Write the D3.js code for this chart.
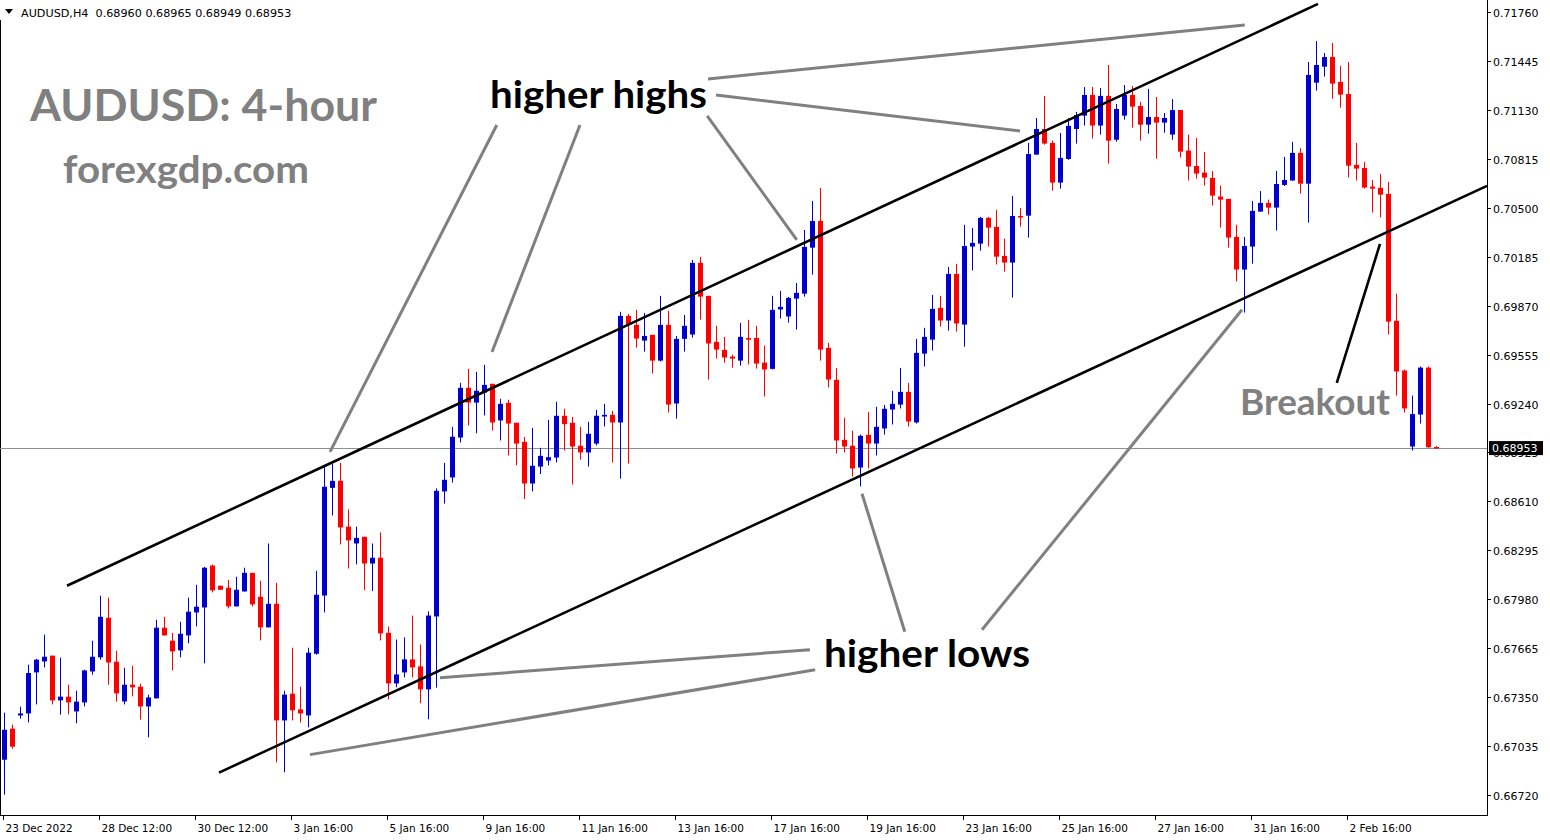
<!DOCTYPE html>
<html><head><meta charset="utf-8">
<script src="https://cdn.jsdelivr.net/npm/d3@7"></script>
<style>html,body{margin:0;padding:0;background:#fff;overflow:hidden}svg{display:block}</style>
</head><body>
<svg id="c" width="1550" height="840"></svg>
<script>
// ---- data (4H candles, index 0..179) ----
const opens = [0.66947,0.67147,0.67232,0.67245,0.67509,0.67580,0.67617,0.67329,0.67353,0.67258,
0.67316,0.67515,0.67606,0.67861,0.67578,0.67322,0.67430,0.67417,0.67290,0.67342,
0.67797,0.67713,0.67651,0.67747,0.67895,0.67927,0.68197,0.68067,0.68054,0.67934,
0.68030,0.68150,0.67996,0.67799,0.67951,0.67200,0.67372,0.67271,0.67232,0.67629,
0.68004,0.68697,0.68742,0.68447,0.68339,0.68382,0.68210,0.68247,0.67764,0.67438,
0.67509,0.67593,0.67548,0.67400,0.67869,0.68674,0.68764,0.69021,0.69341,0.69246,
0.69310,0.69367,0.69131,0.69244,0.69116,0.68993,0.68725,0.68834,0.68873,0.68892,
0.69161,0.69116,0.68968,0.68925,0.68982,0.69156,0.69167,0.69118,0.69804,0.69746,
0.69645,0.69682,0.69516,0.69746,0.69240,0.69656,0.69684,0.70145,0.69933,0.69637,
0.69585,0.69542,0.69516,0.69662,0.69662,0.69503,0.69463,0.69845,0.69800,0.69915,
0.69947,0.70243,0.70415,0.69598,0.69392,0.69006,0.68968,0.68828,0.69038,0.68982,
0.69079,0.69201,0.69233,0.69315,0.69118,0.69561,0.69651,0.69856,0.69774,0.70074,
0.69748,0.70250,0.70269,0.70435,0.70377,0.70190,0.70147,0.70447,0.70449,0.70842,
0.71007,0.70917,0.70662,0.70814,0.71007,0.71093,0.71226,0.71029,0.71220,0.70938,
0.71093,0.71226,0.71155,0.71035,0.71084,0.71048,0.70971,0.71129,0.70868,0.70769,
0.70726,0.70692,0.70572,0.70557,0.70312,0.70102,0.70250,0.70475,0.70531,0.70501,
0.70647,0.70675,0.70853,0.70655,0.71305,0.71408,0.71470,0.71310,0.71232,0.70776,
0.70756,0.70636,0.70628,0.70589,0.69772,0.69452,0.68963,0.69169,0.69471,0.68960];
const highs = [0.67250,0.67173,0.67288,0.67559,0.67597,0.67752,0.67617,0.67604,0.67430,0.67391,
0.67526,0.67713,0.68003,0.67990,0.67649,0.67539,0.67552,0.67436,0.67366,0.67848,
0.67867,0.67764,0.67835,0.67990,0.68073,0.68189,0.68204,0.68067,0.68105,0.68125,
0.68183,0.68150,0.68099,0.68339,0.68086,0.67391,0.67668,0.67417,0.67668,0.68163,
0.68832,0.68854,0.68858,0.68558,0.68448,0.68382,0.68339,0.68410,0.67805,0.67721,
0.67734,0.67875,0.67689,0.67902,0.68693,0.68858,0.69090,0.69373,0.69463,0.69444,
0.69489,0.69367,0.69270,0.69264,0.69116,0.69024,0.69083,0.68955,0.69135,0.69251,
0.69206,0.69154,0.69090,0.69122,0.69199,0.69238,0.69193,0.69830,0.69817,0.69843,
0.69823,0.69682,0.69933,0.69836,0.69675,0.69810,0.70164,0.70184,0.69933,0.69740,
0.69669,0.69555,0.69759,0.69778,0.69740,0.69613,0.69933,0.69965,0.69926,0.70016,
0.70357,0.70544,0.70628,0.69630,0.69469,0.69148,0.69066,0.69040,0.69186,0.69219,
0.69231,0.69322,0.69469,0.69373,0.69656,0.69727,0.69939,0.69933,0.70119,0.70139,
0.70390,0.70370,0.70441,0.70441,0.70486,0.70301,0.70576,0.70499,0.70917,0.71078,
0.71220,0.70932,0.70981,0.71078,0.71117,0.71277,0.71277,0.71271,0.71419,0.71168,
0.71290,0.71284,0.71181,0.71265,0.71213,0.71110,0.71200,0.71129,0.70971,0.70949,
0.70859,0.70737,0.70642,0.70557,0.70391,0.70312,0.70544,0.70608,0.70552,0.70737,
0.70827,0.70924,0.70885,0.71438,0.71573,0.71496,0.71561,0.71413,0.71438,0.70917,
0.70795,0.70679,0.70718,0.70666,0.69946,0.69459,0.69291,0.69478,0.69478,0.68965];
const lows = [0.66722,0.67018,0.67211,0.67187,0.67303,0.67541,0.67303,0.67237,0.67239,0.67181,
0.67290,0.67494,0.67591,0.67430,0.67321,0.67303,0.67355,0.67205,0.67091,0.67342,
0.67747,0.67522,0.67606,0.67696,0.67805,0.67567,0.68024,0.68041,0.67921,0.67934,
0.68030,0.67934,0.67715,0.67799,0.66930,0.66866,0.67200,0.67187,0.67155,0.67623,
0.67895,0.68519,0.68333,0.68178,0.68204,0.68039,0.68033,0.67715,0.67335,0.67413,
0.67477,0.67477,0.67310,0.67207,0.67411,0.68596,0.68731,0.68989,0.69098,0.69048,
0.69163,0.69066,0.69002,0.68905,0.68841,0.68625,0.68674,0.68786,0.68841,0.68860,
0.68937,0.68719,0.68878,0.68834,0.68970,0.69092,0.68860,0.68757,0.68854,0.69600,
0.69574,0.69433,0.69510,0.69182,0.69143,0.69574,0.69664,0.69780,0.69394,0.69529,
0.69503,0.69471,0.69484,0.69491,0.69465,0.69285,0.69459,0.69787,0.69761,0.69716,
0.69928,0.70070,0.69516,0.69343,0.68918,0.68925,0.68770,0.68706,0.68822,0.68905,
0.69040,0.69105,0.69208,0.69092,0.69111,0.69478,0.69581,0.69735,0.69709,0.69703,
0.69606,0.70096,0.70224,0.70250,0.70135,0.70089,0.69922,0.70379,0.70308,0.70842,
0.70906,0.70610,0.70623,0.70808,0.70913,0.71029,0.70945,0.70971,0.70784,0.70925,
0.71067,0.71016,0.70932,0.70977,0.70816,0.70983,0.70938,0.70823,0.70675,0.70688,
0.70642,0.70514,0.70372,0.70243,0.70025,0.69825,0.70140,0.70475,0.70456,0.70353,
0.70640,0.70675,0.70591,0.70404,0.71254,0.71344,0.71202,0.71144,0.70694,0.70675,
0.70623,0.70469,0.70437,0.69684,0.69291,0.69182,0.68937,0.69111,0.68955,0.68949];
const closes = [0.67140,0.67031,0.67245,0.67505,0.67591,0.67610,0.67329,0.67353,0.67316,0.67321,
0.67522,0.67610,0.67867,0.67573,0.67374,0.67430,0.67413,0.67290,0.67348,0.67797,
0.67747,0.67644,0.67758,0.67900,0.67932,0.68183,0.68037,0.68041,0.67934,0.68041,
0.68150,0.67947,0.67799,0.67951,0.67200,0.67366,0.67265,0.67245,0.67636,0.68009,
0.68704,0.68742,0.68442,0.68359,0.68375,0.68210,0.68247,0.67760,0.67438,0.67496,
0.67593,0.67541,0.67400,0.67875,0.68678,0.68749,0.69026,0.69341,0.69246,0.69322,
0.69360,0.69118,0.69238,0.69111,0.68982,0.68725,0.68839,0.68903,0.68895,0.69161,
0.69107,0.68963,0.68925,0.69045,0.69161,0.69167,0.69118,0.69804,0.69746,0.69658,
0.69675,0.69516,0.69746,0.69233,0.69656,0.69740,0.70145,0.69928,0.69626,0.69587,
0.69536,0.69529,0.69669,0.69651,0.69497,0.69459,0.69843,0.69862,0.69920,0.69952,
0.70248,0.70415,0.69587,0.69394,0.69002,0.68963,0.68822,0.69032,0.68982,0.69090,
0.69206,0.69238,0.69315,0.69124,0.69566,0.69669,0.69849,0.69774,0.70074,0.69755,
0.70254,0.70274,0.70435,0.70372,0.70185,0.70147,0.70447,0.70437,0.70846,0.71007,
0.70913,0.70662,0.70821,0.71027,0.71097,0.71226,0.71029,0.71220,0.70932,0.71136,
0.71226,0.71151,0.71035,0.71084,0.71048,0.71078,0.71129,0.70861,0.70765,0.70720,
0.70694,0.70578,0.70552,0.70308,0.70102,0.70254,0.70480,0.70531,0.70501,0.70653,
0.70679,0.70853,0.70655,0.71355,0.71419,0.71470,0.71299,0.71228,0.70771,0.70752,
0.70630,0.70623,0.70584,0.69767,0.69446,0.69208,0.69172,0.69471,0.68958,0.68953];

const priceTicks = d3.range(17).map(k => +(0.66720 + 0.00315 * k).toFixed(5));
const dateLabels = ["23 Dec 2022","28 Dec 12:00","30 Dec 12:00","3 Jan 16:00","5 Jan 16:00","9 Jan 16:00",
 "11 Jan 16:00","13 Jan 16:00","17 Jan 16:00","19 Jan 16:00","23 Jan 16:00","25 Jan 16:00",
 "27 Jan 16:00","31 Jan 16:00","2 Feb 16:00"];
const dateLabelIndex = dateLabels.map((d, k) => k * 12);
const lastPrice = 0.68953;
const header = "AUDUSD,H4  0.68960 0.68965 0.68949 0.68953";

// channel lines [index, price]
const channelUpper = [[7.875, 0.68067], [164.25, 0.71812]];
const channelLower = [[26.875, 0.66864], [185.375, 0.70641]];
// annotation pointer lines [[i1,p1],[i2,p2]]
const highPointers = [
  [[88, 0.71329], [155.1, 0.71676]],
  [[89, 0.71226], [127, 0.70994]],
  [[87.9, 0.71091], [99.1, 0.70293]],
  [[72, 0.71033], [61, 0.69572]],
  [[61.6, 0.71033], [40.75, 0.68929]]
];
const lowPointers = [
  [[107.25, 0.68659], [112.6, 0.67771]],
  [[122.25, 0.67784], [154.75, 0.69843]],
  [[100.75, 0.67655], [54.5, 0.67475]],
  [[101.4, 0.67526], [38.25, 0.66980]]
];
const breakoutPointer = [[166.6, 0.69373], [172, 0.70267]];

// ---- drawing ----
const svg = d3.select("#c");
const plotR = 1487, plotB = 815;
const x = d3.scaleLinear().domain([0, 179]).range([4, 4 + 8 * 179]);
const y = d3.scaleLinear().domain([0.66720, 0.71760]).range([795, 12]);
const candles = opens.map((o, i) => ({i, o, h: highs[i], l: lows[i], c: closes[i]}));
const BLUE = "#0000CD", RED = "#FF0000";

// frame
svg.append("line").attr("x1", 0.5).attr("x2", 0.5).attr("y1", 20).attr("y2", plotB).attr("stroke", "#000");
svg.append("line").attr("x1", 0).attr("x2", plotR + 0.5).attr("y1", plotB + 0.5).attr("y2", plotB + 0.5).attr("stroke", "#000");
svg.append("line").attr("x1", plotR + 0.5).attr("x2", plotR + 0.5).attr("y1", 0).attr("y2", plotB + 1).attr("stroke", "#000");

// current price line
svg.append("line").attr("x1", 0).attr("x2", plotR).attr("y1", Math.round(y(lastPrice)) + 0.5).attr("y2", Math.round(y(lastPrice)) + 0.5)
  .attr("stroke", "#8a9099").attr("stroke-width", 1);

// candles
const g = svg.append("g");
g.selectAll("line.w").data(candles).join("line")
  .attr("x1", d => x(d.i) + 0.5).attr("x2", d => x(d.i) + 0.5)
  .attr("y1", d => y(d.h)).attr("y2", d => y(d.l))
  .attr("stroke", d => d.c >= d.o ? BLUE : RED).attr("stroke-width", 1);
g.selectAll("rect.b").data(candles).join("rect")
  .attr("x", d => x(d.i) - 2).attr("width", 5)
  .attr("y", d => Math.min(y(d.o), y(d.c)))
  .attr("height", d => Math.max(1.5, Math.abs(y(d.o) - y(d.c))))
  .attr("fill", d => d.c >= d.o ? BLUE : RED);

// channel lines
const lineGen = d3.line().x(d => x(d[0])).y(d => y(d[1]));
[channelUpper, channelLower].forEach(l => svg.append("path").attr("d", lineGen(l))
  .attr("stroke", "#000").attr("stroke-width", 2.6).attr("fill", "none"));

// clip to plot
svg.append("rect").attr("x", plotR + 1).attr("y", 0).attr("width", 70).attr("height", 840).attr("fill", "#fff");

// pointers
[...highPointers, ...lowPointers].forEach(l => svg.append("path").attr("d", lineGen(l))
  .attr("stroke", "#808080").attr("stroke-width", 3).attr("fill", "none"));
svg.append("path").attr("d", lineGen(breakoutPointer)).attr("stroke", "#000").attr("stroke-width", 2.6).attr("fill", "none");

// annotation texts
const ann = (t, px, py, size, color, len) => svg.append("text").attr("x", px).attr("y", py).text(t)
  .attr("font-family", "Lato, 'Open Sans', sans-serif").attr("font-weight", "bold")
  .attr("font-size", size).attr("fill", color)
  .attr("textLength", len).attr("lengthAdjust", "spacingAndGlyphs");
ann("AUDUSD: 4-hour", 30, 121, 44, "#808080", 347);
ann("forexgdp.com", 63, 183, 38, "#808080", 246);
ann("higher highs", 490, 108, 38, "#000", 217);
ann("higher lows", 824, 667, 38, "#000", 206);
ann("Breakout", 1240, 415, 36, "#808080", 150);

// header
svg.append("path").attr("d", "M5,9 L13,9 L9,14 Z").attr("fill", "#000");
svg.append("text").attr("x", 21).attr("y", 17).text(header)
  .style("white-space", "pre")
  .attr("font-family", "'DejaVu Sans', sans-serif").attr("font-size", 11.2).attr("fill", "#000");

// price axis
const pa = svg.append("g");
priceTicks.forEach(p => {
  const yy = Math.round(y(p)) + 0.5;
  pa.append("line").attr("x1", plotR).attr("x2", plotR + 4).attr("y1", yy).attr("y2", yy).attr("stroke", "#000");
  pa.append("text").attr("x", 1493).attr("y", yy + 4).text(p.toFixed(5))
    .attr("font-family", "'DejaVu Sans', sans-serif").attr("font-size", 11).attr("fill", "#000");
});
const ly = y(lastPrice);
pa.append("rect").attr("x", 1489).attr("y", ly - 7).attr("width", 54).attr("height", 14).attr("fill", "#000");
pa.append("text").attr("x", 1492).attr("y", ly + 4).text(lastPrice.toFixed(5))
  .attr("font-family", "'DejaVu Sans', sans-serif").attr("font-size", 11).attr("fill", "#fff");

// date axis
dateLabels.forEach((t, k) => {
  const xx = Math.round(x(dateLabelIndex[k])) - 0.5;
  svg.append("line").attr("x1", xx).attr("x2", xx).attr("y1", plotB).attr("y2", plotB + 5).attr("stroke", "#000");
  svg.append("text").attr("x", xx + 2).attr("y", 832).text(t)
    .attr("font-family", "'DejaVu Sans', sans-serif").attr("font-size", 10.5).attr("fill", "#000");
});
</script>
</body></html>
